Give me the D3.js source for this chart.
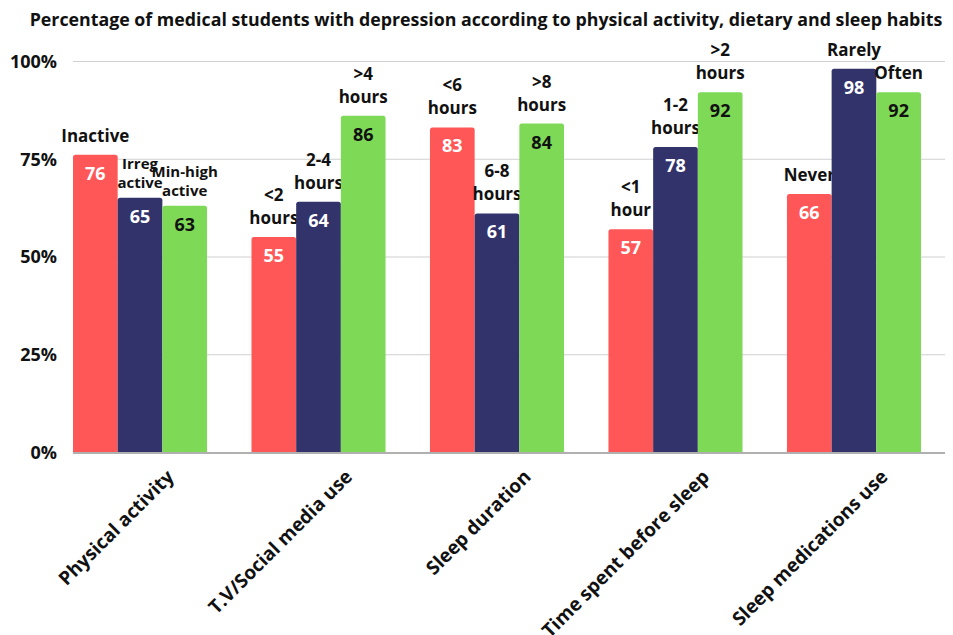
<!DOCTYPE html>
<html>
<head>
<meta charset="utf-8">
<script src="https://cdn.jsdelivr.net/npm/d3@7"></script>
<style>
  body { margin: 0; background: #fff; }
  text { font-family: "Open Sans", sans-serif; font-weight: 700; }
</style>
</head>
<body>
<script>
// data
var groups = ["Physical activity", "T.V/Social media use", "Sleep duration", "Time spent before sleep", "Sleep medications use"];
var lowValues = [76, 55, 83, 57, 66];
var midValues = [65, 64, 61, 78, 98];
var highValues = [63, 86, 84, 92, 92];
var lowLabels = [["Inactive"], ["<2", "hours"], ["<6", "hours"], ["<1", "hour"], ["Never"]];
var midLabels = [["Irreg", "active"], ["2-4", "hours"], ["6-8", "hours"], ["1-2", "hours"], ["Rarely"]];
var highLabels = [["Min-high", "active"], [">4", "hours"], [">8", "hours"], [">2", "hours"], ["Often"]];
var yTicks = [0, 25, 50, 75, 100];

var w = 953, h = 635;
var plotLeft = 73, plotRight = 945, plotTop = 61, plotBottom = 452;

var colours = ["#ff5757", "#33336b", "#7ed957"];
var valueColours = ["#ffffff", "#ffffff", "#111111"];

var svg = d3.select("body")
  .append("svg")
  .attr("width", w)
  .attr("height", h);

svg.append("text")
  .attr("x", 486)
  .attr("y", 26)
  .attr("text-anchor", "middle")
  .style("font-size", "17.8px")
  .style("fill", "#111")
  .text("Percentage of medical students with depression according to physical activity, dietary and sleep habits");

var xScale = d3.scaleBand()
  .domain(groups)
  .range([plotLeft, 921])
  .paddingInner(0.249)
  .paddingOuter(0);

var xSub = d3.scaleBand()
  .domain([0, 1, 2])
  .range([0, xScale.bandwidth()]);

var yScale = d3.scaleLinear()
  .domain([0, 100])
  .range([plotBottom, plotTop]);

// grid + y labels
var yAxis = d3.axisLeft(yScale)
  .tickValues(yTicks)
  .tickSize(-(plotRight - plotLeft))
  .tickPadding(16)
  .tickFormat(d => d + "%");

var yG = svg.append("g")
  .attr("transform", "translate(" + plotLeft + ",0)")
  .call(yAxis);
yG.select(".domain").remove();
yG.selectAll(".tick line").attr("stroke", "#d0d0d0").attr("stroke-width", 1.2);
yG.selectAll(".tick text")
  .style("font-size", "18px")
  .style("fill", "#111")
  .attr("dy", "0.36em");

// build rows for every bar
var rows = [];
groups.forEach(function(g, i) {
  [lowValues, midValues, highValues].forEach(function(vals, k) {
    var labs = [lowLabels, midLabels, highLabels][k];
    rows.push({ group: g, i: i, k: k, value: vals[i], label: labs[i] });
  });
});

var bars = svg.append("g").selectAll("g")
  .data(rows)
  .enter()
  .append("g")
  .attr("transform", d => "translate(" + (xScale(d.group) + xSub(d.k)) + ",0)");

bars.append("path")
  .attr("d", function(d) {
    var bw = xSub.bandwidth(), y0 = yScale(d.value), r = 2.5;
    return "M0," + plotBottom + "V" + (y0 + r) + "Q0," + y0 + " " + r + "," + y0 +
      "H" + (bw - r) + "Q" + bw + "," + y0 + " " + bw + "," + (y0 + r) + "V" + plotBottom + "Z";
  })
  .style("fill", d => colours[d.k]);

bars.append("text")
  .attr("x", xSub.bandwidth() / 2)
  .attr("y", d => yScale(d.value) + 25)
  .attr("text-anchor", "middle")
  .style("font-size", "18px")
  .style("fill", d => valueColours[d.k])
  .text(d => d.value);

// the two-line physical activity labels are set smaller in the original
bars.each(function(d) {
  var n = d.label.length;
  var small = d.i === 0 && n > 1;
  var lh = small ? 19 : 23;
  d3.select(this).selectAll(".lab")
    .data(d.label)
    .enter()
    .append("text")
    .attr("class", "lab")
    .attr("x", xSub.bandwidth() / 2)
    .attr("y", (t, j) => yScale(d.value) - (small ? 10 : 13) - (n - 1 - j) * lh)
    .attr("text-anchor", "middle")
    .style("font-size", small ? "15px" : "17px")
    .style("fill", "#111")
    .text(t => t);
});

// baseline
svg.append("line")
  .attr("x1", plotLeft).attr("x2", plotRight)
  .attr("y1", plotBottom + 1).attr("y2", plotBottom + 1)
  .attr("stroke", "#b0b0b0")
  .attr("stroke-width", 2);

// rotated group labels
svg.append("g").selectAll("text")
  .data(groups)
  .enter()
  .append("text")
  .attr("transform", d => "translate(" + (xScale(d) + xScale.bandwidth() / 2 + 35) + "," + (plotBottom + 26) + ") rotate(-45)")
  .attr("text-anchor", "end")
  .style("font-size", "19px")
  .style("fill", "#111")
  .text(d => d);
</script>
</body>
</html>
